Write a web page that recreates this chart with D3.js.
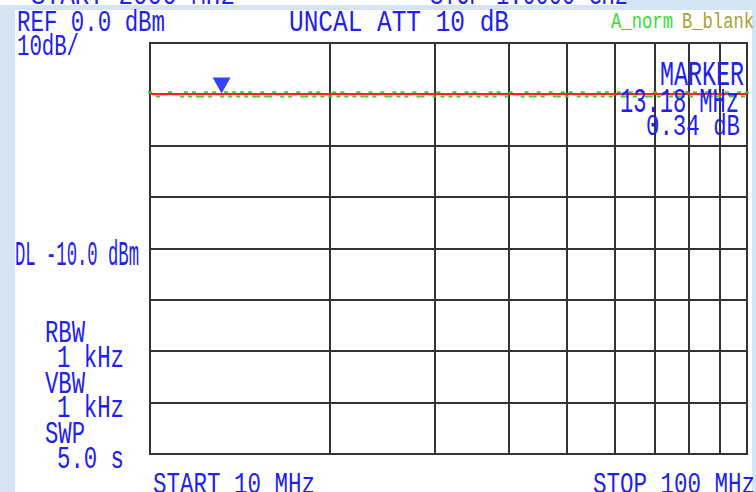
<!DOCTYPE html>
<html lang="en">
<meta charset="utf-8">
<style>
body {
  margin: 0;
  background: #d4e4f2;
  font-family: 'Liberation Mono', 'DejaVu Sans Mono', monospace;
}
svg { display: block; }
.grid line { stroke: #333; stroke-width: 2; shape-rendering: crispEdges; }
.frame { fill: none; stroke: #333; stroke-width: 2; shape-rendering: crispEdges; }
</style>
<body>
<div id="screen"></div>
<script src="https://d3js.org/d3.v7.min.js"></script>
<script>

// analyzer settings
var startMHz = 10, stopMHz = 100;
var refLevel = 0, dbPerDiv = 10, divisions = 8;
var displayLine = -10;
var markerMHz = 13.18, markerDb = -9.85;

// grid frequencies (log sweep)
var gridFreqs = [20, 30, 40, 50, 60, 70, 80, 90];
var gridLevels = [-10, -20, -30, -40, -50, -60, -70];

// trace A (dBm, evenly spaced sweep points)
var traceA = [
  -9.6, -10.0, -10.4, -10.0, -10.0, -9.6, -10.0, -10.0, -10.4, -9.6,
  -10.4, -9.6, -10.4, -10.4, -9.6, -10.4, -9.6, -10.0, -10.4, -9.6,
  -10.4, -9.6, -10.4, -9.6, -10.4, -9.6, -10.4, -10.4, -9.6, -10.4,
  -10.4, -9.6, -10.0, -10.4, -9.6, -10.4, -10.0, -9.6, -10.4, -10.4,
  -9.6, -10.4, -9.6, -10.4, -10.0, -10.4, -9.6, -10.4, -9.6, -10.4,
  -10.0, -10.4, -9.6, -10.4, -10.4, -9.6, -10.4, -10.0, -9.6, -10.4,
  -10.4, -9.6, -10.4, -9.6, -10.4, -10.0, -9.6, -10.4, -10.4, -9.6,
  -10.0, -10.4, -9.6, -10.4, -10.0, -10.4, -9.6, -10.4, -10.0, -9.6,
  -10.4, -9.6, -10.4, -10.0, -10.4, -9.6, -10.4, -9.6, -10.0, -10.4,
  -9.6, -10.0, -10.0, -10.4, -9.6, -10.4, -10.4, -9.6, -10.4, -10.0,
  -9.6, -10.4, -10.4, -9.6, -10.4, -9.6, -10.0, -10.4, -9.6, -10.4,
  -10.0, -10.4, -9.6, -10.4, -9.6, -10.4, -10.0, -9.6, -10.4, -10.4,
  -9.6, -10.4, -10.0, -9.6, -10.4, -10.4, -9.6, -10.4, -10.0, -9.6,
  -10.4, -9.6, -10.4, -10.4, -9.6, -10.4, -9.6, -10.0, -10.4, -9.6,
  -10.4, -9.6, -10.4, -10.0, -9.6, -10.4, -10.4, -9.6, -10.4, -9.6
];

var width = 756, height = 492;
var plot = {left: 150, top: 43, right: 747, bottom: 454};

var svg = d3.select("#screen").append("svg")
    .attr("width", width)
    .attr("height", height);

// white screen panel + the clipped strip at the very top
svg.append("rect").attr("x", 15).attr("y", 10).attr("width", 737).attr("height", 482).attr("fill", "#fff");
svg.append("rect").attr("x", 0).attr("y", 0).attr("width", 622).attr("height", 5).attr("fill", "#fff");

var x = d3.scaleLog()
    .domain([startMHz, stopMHz])
    .range([plot.left, plot.right]);

var y = d3.scaleLinear()
    .domain([refLevel, refLevel - dbPerDiv * divisions])
    .range([plot.top, plot.bottom]);

// grid
var grid = svg.append("g").attr("class", "grid");
grid.selectAll(".v").data(gridFreqs).enter().append("line")
    .attr("x1", function(d) { return x(d); })
    .attr("x2", function(d) { return x(d); })
    .attr("y1", plot.top).attr("y2", plot.bottom);
grid.selectAll(".h").data(gridLevels).enter().append("line")
    .attr("x1", plot.left).attr("x2", plot.right)
    .attr("y1", function(d) { return y(d); })
    .attr("y2", function(d) { return y(d); });

svg.append("rect").attr("class", "frame")
    .attr("x", plot.left).attr("y", plot.top)
    .attr("width", plot.right - plot.left).attr("height", plot.bottom - plot.top);

// trace A (green) - speckled points on a log sweep
var step = d3.scaleLinear().domain([0, traceA.length - 1]).range([0, 1]);
function fx(i) { return x(startMHz * Math.pow(stopMHz / startMHz, step(i))); }

svg.append("g").selectAll("rect")
    .data(traceA)
  .enter().append("rect")
    .attr("x", function(d, i) { return fx(i) - 2; })
    .attr("y", function(d) { return y(d) - 1; })
    .attr("width", 4)
    .attr("height", 2)
    .attr("fill", "#2fd02f");

// display line (red)
svg.append("line")
    .attr("x1", plot.left).attr("x2", plot.right)
    .attr("y1", y(displayLine) - 0.5).attr("y2", y(displayLine) - 0.5)
    .attr("stroke", "#f22")
    .attr("stroke-width", 2);

// marker
var mx = x(markerMHz), my = y(markerDb);
svg.append("path")
    .attr("d", "M" + (mx - 9) + "," + (my - 16) + "L" + (mx + 9) + "," + (my - 16) + "L" + mx + "," + my + "Z")
    .attr("fill", "#3344ff");

// text, monospaced and stretched tall like the analyzer font
var blue = "#2020f0";
function label(txt, lx, base, w, cap, color) {
  svg.append("text")
      .attr("x", lx)
      .attr("y", base)
      .attr("font-size", cap / 0.66)
      .attr("textLength", w)
      .attr("lengthAdjust", "spacingAndGlyphs")
      .attr("fill", color || blue)
      .text(txt);
}

label("START 2000 MHz", 31, 4, 204, 20);
label("STOP 1.0000 GHz", 430, 4, 198, 20);
// cover the strip between the two screens
svg.append("rect").attr("x", 0).attr("y", 5).attr("width", width).attr("height", 5).attr("fill", "#d4e4f2");
svg.append("rect").attr("x", 0).attr("y", 10).attr("width", 15).attr("height", 482).attr("fill", "#d4e4f2");

label("REF 0.0 dBm", 17, 31, 148, 20);
label("10dB/", 17, 55, 62, 19);
label("UNCAL  ATT 10 dB", 289, 31, 220, 20);
label("A_norm", 611, 28, 62, 15, "#33dd33");
label("B_blank", 682, 28, 72, 15, "#a8a030");

label("MARKER", 660, 85, 84, 23);
label("13.18 MHz", 620, 112, 119, 23);
label("0.34 dB", 646, 135, 94, 20);

label("DL -10.0 dBm", 15, 265, 124, 23);

label("RBW", 45, 342, 40, 21);
label("1 kHz", 57, 367, 67, 21);
label("VBW", 45, 393, 40, 21);
label("1 kHz", 57, 417, 67, 21);
label("SWP", 45, 443, 40, 21);
label("5.0 s", 57, 468, 67, 21);

label("START 10 MHz", 153, 493, 162, 20);
label("STOP 100 MHz", 593, 493, 162, 20);

</script>
</body>
</html>
